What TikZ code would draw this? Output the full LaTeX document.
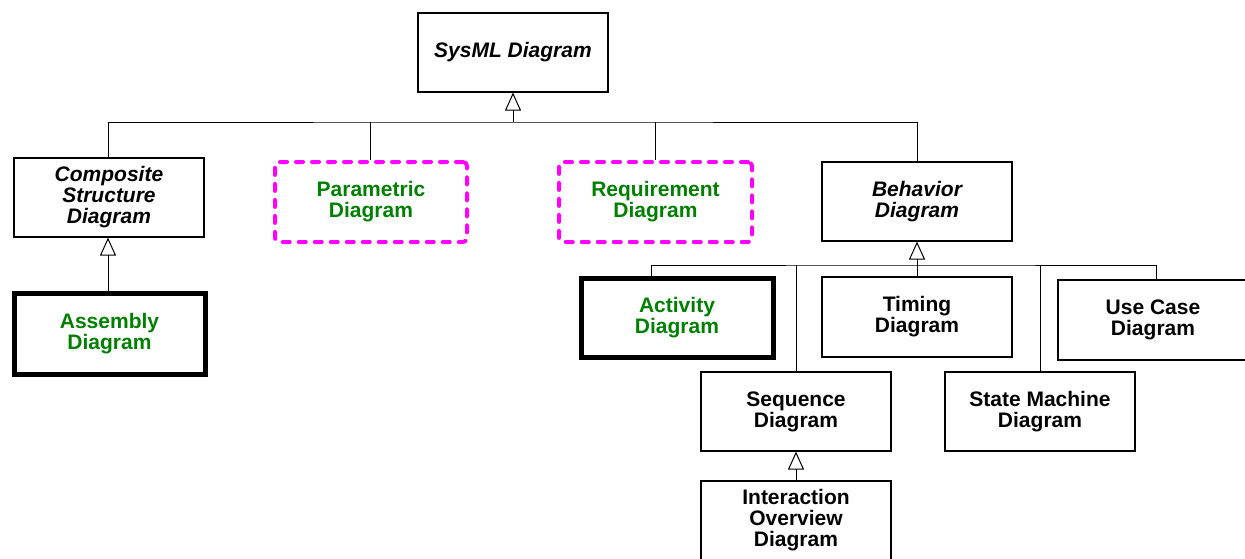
\documentclass[tikz,border=0pt]{standalone}
\usepackage{fontspec}
\setmainfont{Liberation Sans}
\usetikzlibrary{arrows.meta}
\definecolor{dgreen}{RGB}{0,128,0}
\definecolor{mgnt}{RGB}{255,0,255}
\begin{document}
\begin{tikzpicture}[x=1pt,y=-1pt,
  box/.style={draw, line width=1.1pt, minimum width=190pt, minimum height=79pt,
    align=center, inner sep=0pt, font=\fontsize{21}{21}\selectfont\bfseries},
  abs/.style={box, font=\fontsize{21}{21}\selectfont\bfseries\itshape},
  thickbox/.style={box, line width=5pt, text=dgreen},
  dashbox/.style={box, draw=mgnt, line width=4pt, dash pattern=on 7pt off 9pt,
    line cap=round, rounded corners=4pt, text=dgreen},
  conn/.style={line width=1pt},
  gen/.style={conn, -{Triangle[open, width=16pt, length=18pt, line width=1pt]}}]
\useasboundingbox (0,0) rectangle (1245,558);
\node[abs] (sysml) at (513,52.5) {SysML Diagram};
\node[abs] (comp) at (109,197.5) {Composite\\Structure\\Diagram};
\node[dashbox, minimum width=192pt, minimum height=80pt] (param) at (371,202) {Parametric\\Diagram};
\node[dashbox, minimum width=193pt, minimum height=80pt] (req) at (655.5,202) {Requirement\\Diagram};
\node[abs] (beh) at (917,201.5) {Behavior\\Diagram};
\node[thickbox, minimum width=191pt, minimum height=81pt] (asm) at (109.5,333.5) {Assembly\\Diagram};
\node[thickbox, minimum width=192pt] (act) at (677,317.5) {Activity\\Diagram};
\node[box, minimum height=80pt] (tim) at (917,317) {Timing\\Diagram};
\node[box, minimum height=80pt] (use) at (1153,320) {Use Case\\Diagram};
\node[box] (seq) at (796,411.5) {Sequence\\Diagram};
\node[box] (sm) at (1040,411.5) {State Machine\\Diagram};
\node[box] (io) at (796,520.5) {Interaction\\Overview\\Diagram};
% SysML generalization tree
\coordinate (b1) at (513,122);
\draw[gen] (b1) -- (sysml.south);
\draw[conn] (comp.north -| 108,0) |- (b1) -| (beh.north);
\draw[conn] (param.north -| 370,0) -- (370,122);
\draw[conn] (req.north) -- (req.north |- b1);
% Behavior tree
\coordinate (b2) at (917,265);
\draw[gen] (b2) -- (beh.south);
\draw[conn] (act.north -| 651,0) |- (b2) -| (use.north -| 1156,0);
\draw[conn] (seq.north) -- (seq.north |- b2);
\draw[conn] (tim.north) -- (tim.north |- b2);
\draw[conn] (sm.north) -- (sm.north |- b2);
% other generalizations
\draw[gen] (asm.north -| 108,0) -- (comp.south -| 108,0);
\draw[gen] (io.north) -- (seq.south);
\end{tikzpicture}
\end{document}
